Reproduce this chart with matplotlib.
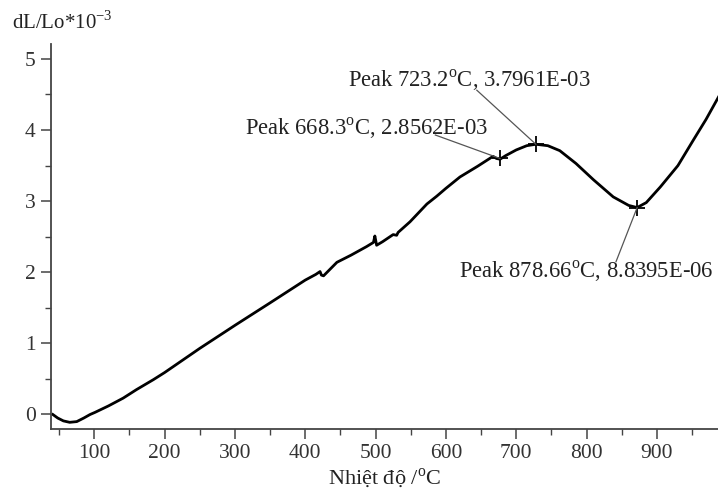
import matplotlib
matplotlib.use("Agg")
import matplotlib.pyplot as plt
from matplotlib.ticker import MultipleLocator

# dilatometer curve (temperature in C, dL/Lo in 1e-3)
temp = [41, 48, 56, 65, 75, 85, 94, 101, 120, 141, 160, 184, 200, 250, 301,
        350, 400, 415, 421, 423, 426, 435, 445, 465, 487, 497, 499, 501.5,
        510, 525, 530, 532, 549, 573, 587, 600, 620, 645, 667, 672, 677, 685,
        700, 715, 728, 745, 762, 785, 810, 838, 860, 872, 885, 905, 930,
        952, 970, 988]
dl = [0.0, -0.05, -0.09, -0.11, -0.10, -0.05, 0.0, 0.03, 0.12, 0.23, 0.35,
      0.49, 0.59, 0.93, 1.26, 1.57, 1.89, 1.97, 2.01, 1.96, 1.95, 2.04, 2.14,
      2.24, 2.36, 2.42, 2.51, 2.38, 2.43, 2.53, 2.52, 2.56, 2.71, 2.96, 3.07,
      3.18, 3.34, 3.49, 3.63, 3.60, 3.59, 3.64, 3.72, 3.78, 3.80, 3.78, 3.71,
      3.53, 3.30, 3.06, 2.94, 2.91, 2.98, 3.20, 3.50, 3.86, 4.15, 4.47]

peak_t = [677, 728, 872]
peak_v = [3.60, 3.80, 2.91]
peak_labels = ["Peak 668.3$^{\\mathregular{o}}$C, 2.8562E-03",
               "Peak 723.2$^{\\mathregular{o}}$C, 3.7961E-03",
               "Peak 878.66$^{\\mathregular{o}}$C, 8.8395E-06"]
# where the label text sits and where its leader line starts
label_xy = [(314, 4.03), (461, 4.70), (619, 2.01)]
leader_xy = [(585, 3.93), (644, 4.56), (842, 2.15)]

plt.rcParams['font.family'] = ['Liberation Serif', 'DejaVu Serif']
plt.rcParams['mathtext.fontset'] = 'custom'
plt.rcParams['mathtext.rm'] = 'Liberation Serif'

fig = plt.figure(figsize=(7.18, 4.95), dpi=100)
ax = fig.add_axes([51 / 718, 1 - 429 / 495, 1 - 51 / 718, (429 - 44) / 495])

ax.plot(temp, dl, color='black', lw=2.0, solid_joinstyle='round')
ax.plot(peak_t, peak_v, ls='none', marker='+', ms=11, mew=1.3, color='black')

for (tx, ty), (lx, ly), t, v, lab in zip(label_xy, leader_xy, peak_t, peak_v, peak_labels):
    ax.plot([lx, t], [ly, v], color='#555555', lw=0.9)
    ax.text(tx, ty, lab, fontsize=16.3, ha='left', va='center', color='#222222')

ax.set_xlim(38.4, 987)
ax.set_ylim(-0.204, 5.21)
ax.xaxis.set_major_locator(MultipleLocator(100))
ax.xaxis.set_minor_locator(MultipleLocator(50))
ax.yaxis.set_major_locator(MultipleLocator(1))
ax.yaxis.set_minor_locator(MultipleLocator(0.5))
ax.set_xticks([100, 200, 300, 400, 500, 600, 700, 800, 900])

for s in ['top', 'right']:
    ax.spines[s].set_visible(False)
for s in ['left', 'bottom']:
    ax.spines[s].set_color('#444444')
    ax.spines[s].set_linewidth(1.3)

ax.tick_params(which='major', length=7, width=1.1, color='#444444',
               labelsize=15.5, labelcolor='#333333', pad=4)
ax.tick_params(which='minor', length=4, width=1.0, color='#444444')

ax.set_xlabel("Nhiệt độ /$^{\\mathregular{o}}$C", fontsize=16, color='#222222', labelpad=2)
fig.text(12 / 718, 1 - 22 / 495, "dL/Lo*10$^{\\mathregular{-3}}$", fontsize=15,
         ha='left', va='center', color='#222222')

fig.savefig("out.png", dpi=100)
